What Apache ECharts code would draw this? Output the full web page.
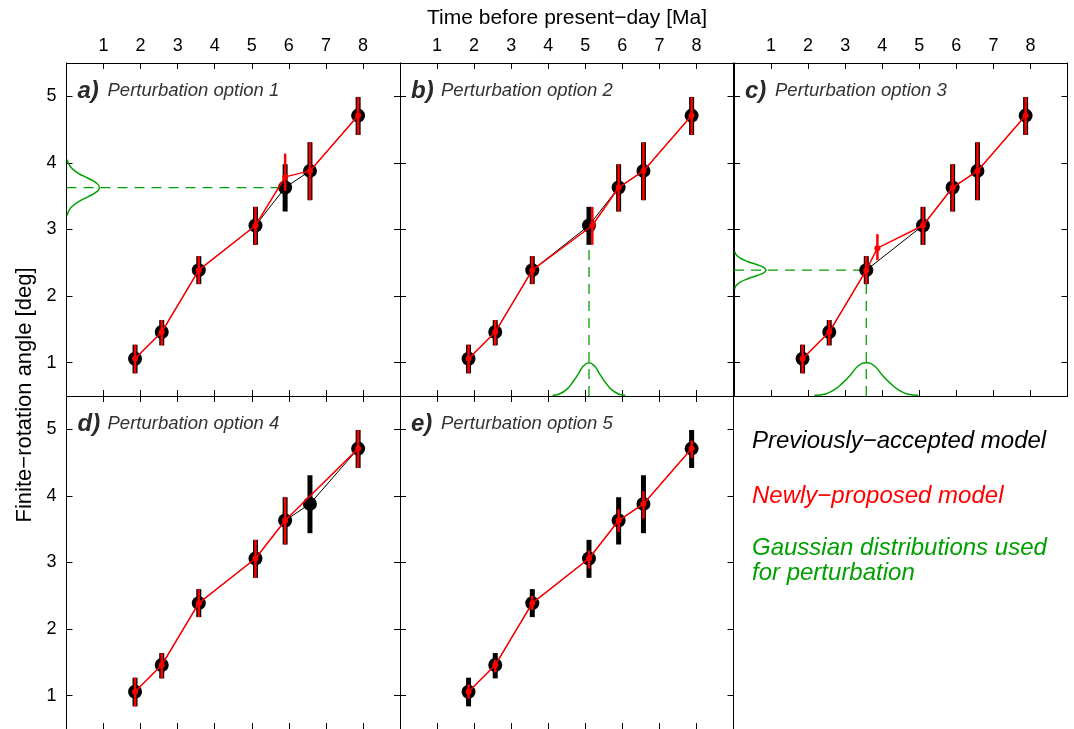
<!DOCTYPE html>
<html>
<head>
<meta charset="utf-8">
<script src="https://cdn.jsdelivr.net/npm/echarts@6/dist/echarts.min.js"></script>
<style>
html, body { margin: 0; padding: 0; background: #fff; }
#chart { width: 1074px; height: 729px; }
</style>
</head>
<body>
<div id="chart"></div>
<script>
// tick labels
const xTicks = [1, 2, 3, 4, 5, 6, 7, 8];
const yTicks = [1, 2, 3, 4, 5];

// previously-accepted model (same in every panel)
const ages = [1.85, 2.57, 3.57, 5.1, 5.9, 6.57, 7.87];
const angles = [1.06, 1.46, 2.39, 3.06, 3.63, 3.88, 4.71];
const angleLow = [0.84, 1.26, 2.18, 2.77, 3.27, 3.44, 4.42];
const angleHigh = [1.27, 1.64, 2.6, 3.34, 3.98, 4.31, 4.99];

// newly-proposed models
const anglesA = [1.06, 1.46, 2.39, 3.06, 3.79, 3.88, 4.71];
const lowA = [0.84, 1.26, 2.18, 2.77, 3.58, 3.44, 4.42];
const highA = [1.27, 1.64, 2.6, 3.34, 4.14, 4.31, 4.99];

const agesB = [1.85, 2.57, 3.57, 5.19, 5.9, 6.57, 7.87];

const agesC = [1.85, 2.57, 3.57, 3.87, 5.1, 5.9, 6.57, 7.87];
const anglesC = [1.06, 1.46, 2.39, 2.72, 3.06, 3.63, 3.88, 4.71];
const lowC = [0.84, 1.26, 2.18, 2.54, 2.77, 3.27, 3.44, 4.42];
const highC = [1.27, 1.64, 2.6, 2.93, 3.34, 3.98, 4.31, 4.99];

const agesD = [1.85, 2.57, 3.57, 5.1, 5.9, 7.87];
const anglesD = [1.06, 1.46, 2.39, 3.06, 3.63, 4.71];
const lowD = [0.84, 1.26, 2.18, 2.77, 3.27, 4.42];
const highD = [1.27, 1.64, 2.6, 3.34, 3.98, 4.99];

const lowE = [0.96, 1.35, 2.29, 2.91, 3.46, 3.66, 4.57];
const highE = [1.17, 1.54, 2.5, 3.18, 3.8, 4.07, 4.83];

// gaussian distributions used for perturbation
const gaussA = [[0.02, 4.05], [0.06, 3.98], [0.16, 3.91], [0.33, 3.84], [0.58, 3.77], [0.8, 3.7], [0.89, 3.63],
  [0.8, 3.56], [0.58, 3.49], [0.33, 3.42], [0.16, 3.35], [0.06, 3.28], [0.02, 3.21]];
const gaussB = [[4.12, 0.51], [4.3, 0.53], [4.5, 0.6], [4.65, 0.7], [4.8, 0.82], [4.95, 0.95], [5.1, 1.0],
  [5.25, 0.95], [5.4, 0.82], [5.55, 0.7], [5.7, 0.6], [5.9, 0.53], [6.08, 0.51]];
const gaussCLeft = [[0.02, 2.67], [0.06, 2.62], [0.17, 2.57], [0.37, 2.52], [0.63, 2.47], [0.8, 2.43], [0.86, 2.39],
  [0.8, 2.35], [0.63, 2.31], [0.37, 2.26], [0.17, 2.21], [0.06, 2.16], [0.02, 2.11]];
const gaussCBottom = [[2.17, 0.51], [2.47, 0.53], [2.72, 0.6], [2.92, 0.69], [3.12, 0.8], [3.35, 0.95], [3.57, 1.0],
  [3.79, 0.95], [4.02, 0.8], [4.22, 0.69], [4.42, 0.6], [4.67, 0.53], [4.97, 0.51]];

const dashA = [[0, 3.63], [5.9, 3.63]];
const dashB = [[5.1, 0.5], [5.1, 3.06]];
const dashCh = [[0, 2.39], [3.57, 2.39]];
const dashCv = [[3.57, 0.5], [3.57, 2.39]];

const panels = [
  { tag: 'a)', name: 'Perturbation option 1', nx: ages, ny: anglesA, nlo: lowA, nhi: highA, gauss: [gaussA], dash: [dashA] },
  { tag: 'b)', name: 'Perturbation option 2', nx: agesB, ny: angles, nlo: angleLow, nhi: angleHigh, gauss: [gaussB], dash: [dashB] },
  { tag: 'c)', name: 'Perturbation option 3', nx: agesC, ny: anglesC, nlo: lowC, nhi: highC, gauss: [gaussCLeft, gaussCBottom], dash: [dashCh, dashCv] },
  { tag: 'd)', name: 'Perturbation option 4', nx: agesD, ny: anglesD, nlo: lowD, nhi: highD, gauss: [], dash: [] },
  { tag: 'e)', name: 'Perturbation option 5', nx: ages, ny: angles, nlo: lowE, nhi: highE, gauss: [], dash: [] }
];

const FONT = '"Liberation Sans", Arial, Helvetica, sans-serif';
const GREEN = '#00a000';
const lefts = [66.5, 400, 734];
const tops = [63, 396];
const W = 333.5, H = 333;

const grid = [], xAxis = [], yAxis = [], series = [], graphic = [];

function pairs(xs, ys) { return xs.map((x, k) => [x, ys[k]]); }

function errBars(i, xs, lo, hi, width, color, z) {
  return {
    type: 'custom', xAxisIndex: 2 * i, yAxisIndex: 2 * i, z: z, silent: true,
    data: xs.map((x, k) => [x, lo[k], hi[k]]),
    encode: { x: 0, y: [1, 2] },
    renderItem: function (params, api) {
      const t = api.coord([api.value(0), api.value(2)]);
      const b = api.coord([api.value(0), api.value(1)]);
      return { type: 'rect', shape: { x: t[0] - width / 2, y: t[1], width: width, height: b[1] - t[1] }, style: { fill: color } };
    }
  };
}

panels.forEach((p, i) => {
  const row = Math.floor(i / 3), col = i % 3;
  grid.push({ left: lefts[col], top: tops[row], width: W, height: H });
  const line = { show: true, onZero: false, lineStyle: { color: '#000', width: 1 } };
  const tickX = { show: true, inside: true, length: 6, customValues: xTicks, lineStyle: { color: '#000' } };
  const tickY = { show: true, inside: true, length: 6, customValues: yTicks, lineStyle: { color: '#000' } };
  xAxis.push({ gridIndex: i, type: 'value', min: 0, max: 9, position: 'bottom', axisLine: line, axisTick: tickX,
    axisLabel: { show: false }, splitLine: { show: false } });
  xAxis.push({ gridIndex: i, type: 'value', min: 0, max: 9, position: 'top', axisLine: line, axisTick: tickX,
    axisLabel: { show: row === 0, customValues: xTicks, color: '#000', fontSize: 18, fontFamily: FONT, margin: 8 },
    splitLine: { show: false } });
  yAxis.push({ gridIndex: i, type: 'value', min: 0.5, max: 5.5, position: 'left', axisLine: line, axisTick: tickY,
    axisLabel: { show: col === 0, customValues: yTicks, color: '#000', fontSize: 18, fontFamily: FONT, margin: 10 },
    splitLine: { show: false } });
  yAxis.push({ gridIndex: i, type: 'value', min: 0.5, max: 5.5, position: 'right', axisLine: line, axisTick: tickY,
    axisLabel: { show: false }, splitLine: { show: false } });

  const ax = { xAxisIndex: 2 * i, yAxisIndex: 2 * i, silent: true };
  p.gauss.forEach(g => series.push(Object.assign({ type: 'line', data: g, smooth: true, symbol: 'none', z: 1,
    lineStyle: { color: GREEN, width: 1.5 } }, ax)));
  p.dash.forEach(d => series.push(Object.assign({ type: 'line', data: d, symbol: 'none', z: 1,
    lineStyle: { color: GREEN, width: 1.3, type: [10, 7] } }, ax)));
  series.push(Object.assign({ type: 'line', data: pairs(ages, angles), symbol: 'none', z: 2,
    lineStyle: { color: '#000', width: 1 } }, ax));
  series.push(errBars(i, ages, angleLow, angleHigh, 5, '#000', 3));
  series.push(Object.assign({ type: 'scatter', data: pairs(ages, angles), symbolSize: 14, z: 4,
    itemStyle: { color: '#000', opacity: 1 } }, ax));
  series.push(Object.assign({ type: 'line', data: pairs(p.nx, p.ny), symbol: 'none', z: 5,
    lineStyle: { color: '#ff0000', width: 1.5 } }, ax));
  series.push(errBars(i, p.nx, p.nlo, p.nhi, 2.5, '#ff0000', 6));
  series.push(Object.assign({ type: 'scatter', data: pairs(p.nx, p.ny), symbolSize: 6, z: 7,
    itemStyle: { color: '#ff0000', opacity: 1 } }, ax));

  graphic.push({ type: 'text', x: lefts[col] + 11, y: tops[row] + 28, z: 10,
    style: { text: p.tag, fontSize: 24, fontWeight: 'bold', fontStyle: 'italic', fill: '#2a2a2a', fontFamily: FONT,
      verticalAlign: 'middle' } });
  graphic.push({ type: 'text', x: lefts[col] + 41, y: tops[row] + 28, z: 10,
    style: { text: p.name, fontSize: 18.5, fontStyle: 'italic', fill: '#333', fontFamily: FONT, verticalAlign: 'middle' } });
});

graphic.push({ type: 'text', x: 567, y: 18, style: { text: 'Time before present−day [Ma]', fontSize: 21, fontFamily: FONT,
  fill: '#000', align: 'center', verticalAlign: 'middle' } });
graphic.push({ type: 'text', x: 25, y: 395, rotation: Math.PI / 2, style: { text: 'Finite−rotation angle [deg]', fontSize: 22,
  fontFamily: FONT, fill: '#000', align: 'center', verticalAlign: 'middle' } });

const legendLines = [
  ['Previously−accepted model', '#000', 441],
  ['Newly−proposed model', '#ff0000', 496],
  ['Gaussian distributions used', GREEN, 548],
  ['for perturbation', GREEN, 573]
];
legendLines.forEach(l => graphic.push({ type: 'text', x: 752, y: l[2], style: { text: l[0], fill: l[1], fontSize: 24,
  fontStyle: 'italic', fontFamily: FONT, verticalAlign: 'middle' } }));

const chart = echarts.init(document.getElementById('chart'));
chart.setOption({
  animation: false,
  backgroundColor: '#fff',
  grid: grid,
  xAxis: xAxis,
  yAxis: yAxis,
  series: series,
  graphic: graphic
});
</script>
</body>
</html>
